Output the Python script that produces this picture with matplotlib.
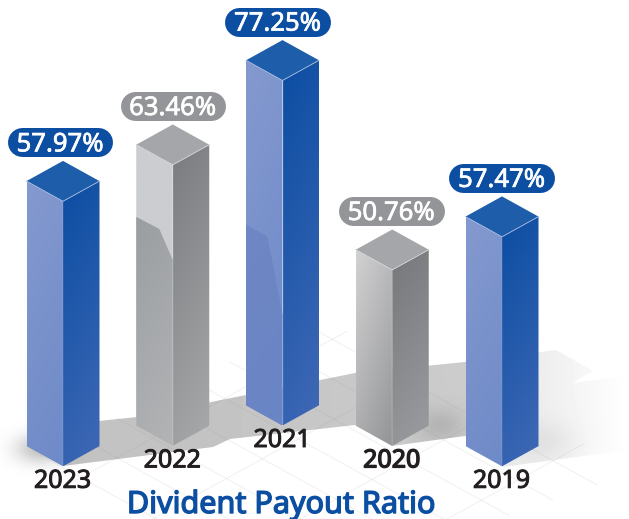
import numpy as np
import matplotlib
matplotlib.use("Agg")
import matplotlib.pyplot as plt
import matplotlib.patheffects as pe
from matplotlib.colors import to_rgb
from matplotlib.patches import Polygon

#DATA (printed labels, columns in the picture are not drawn to scale)
years = ["2023", "2022", "2021", "2020", "2019"]
payout = [57.97, 63.46, 77.25, 50.76, 57.47]
drawn_height = [265, 281, 345, 176, 229.5]
floor_row = [0, 1, 2, 1, 0]
is_blue = [True, False, True, False, True]
year_stroke = [0.7, 0.7, 0.7, 1.0, 0.7]
title = "Divident Payout Ratio"

W, H = 629, 519
plt.rcParams["font.family"] = ["Noto Sans", "DejaVu Sans"]

fig = plt.figure(figsize=(W / 100, H / 100), dpi=100)
ax = fig.add_axes([0, 0, 1, 1])


def gradient(pts, c1, c2, tilt=0.25, zorder=3):
    #fill polygon with a slightly diagonal gradient from c1 to c2
    pts = np.array(pts, dtype=float)
    x0, y0 = pts.min(axis=0)
    x1, y1 = pts.max(axis=0)
    xx, yy = np.meshgrid(np.linspace(0, 1, 40), np.linspace(0, 1, 300))
    t = np.clip((yy + tilt * xx) / (1 + tilt), 0, 1)[..., None]
    img = np.array(to_rgb(c1)) * (1 - t) + np.array(to_rgb(c2)) * t
    im = ax.imshow(img, extent=(x0, x1, y1, y0), aspect="auto", zorder=zorder, interpolation="bilinear")
    im.set_clip_path(Polygon(pts, closed=True, transform=ax.transData))


#FLOOR SHADOW
band = [(63, 466), (213, 447), (230, 439), (355, 425), (392, 446), (465, 436), (502, 467), (629, 450),
        (629, 376), (572, 383), (593, 371), (556, 350), (465, 362), (355, 373), (246, 395), (137, 417), (99, 421)]
gx, gy = np.meshgrid(np.arange(W), np.arange(H))
tone = np.interp(gx, [60, 250, 465, 480, 540, 590, 629], [0.76, 0.77, 0.80, 0.91, 0.93, 0.97, 1.0])
tone = tone - 0.09 * np.exp(-(((gx - 440) / 25.0) ** 2 + ((gy - 425) / 18.0) ** 2))
tone = tone - 0.05 * np.exp(-(((gx - 545) / 30.0) ** 2 + ((gy - 440) / 20.0) ** 2))
shade = ax.imshow(tone, cmap="gray", vmin=0, vmax=1, extent=(0, W, H, 0), aspect="auto", zorder=1)
shade.set_clip_path(Polygon(band, closed=True, transform=ax.transData))

#soft shadow left of first column
blob = np.zeros((H, W, 4))
blob[..., 3] = 0.24 * np.exp(-(((gx - 40) / 24.0) ** 2 + ((gy - 448) / 15.0) ** 2))
ax.imshow(blob, extent=(0, W, H, 0), aspect="auto", zorder=1)

#FLOOR GRID
floor = Polygon([(320, 318), (640, 470), (500, 519), (140, 519), (10, 470)], closed=True, transform=ax.transData)
line_x = np.array([0, W])
for c in np.arange(-120, 520, 39.5):
    ln, = ax.plot(line_x, 0.55 * line_x + c, color="#8a8a8a", lw=0.6, alpha=0.14, zorder=2)
    ln.set_clip_path(floor)
for c in np.arange(360, 1000, 81):
    ln, = ax.plot(line_x, -0.55 * line_x + c, color="#8a8a8a", lw=0.6, alpha=0.14, zorder=2)
    ln.set_clip_path(floor)

#COLUMNS
half_w = 36.5
half_d = 20.2
for i, year in enumerate(years):
    cx = 63 + 109.75 * i
    base = 466.3 - 20.4 * floor_row[i]
    top = base - drawn_height[i]
    left = [(cx - half_w, top - half_d), (cx, top), (cx, base), (cx - half_w, base - half_d)]
    right = [(cx, top), (cx + half_w, top - half_d), (cx + half_w, base - half_d), (cx, base)]
    roof = [(cx - half_w, top - half_d), (cx, top - 2 * half_d), (cx + half_w, top - half_d), (cx, top)]

    if is_blue[i]:
        gradient(left, "#8499CF", "#6E8AC8")
        gradient(right, "#0A4DA2", "#4169B6")
        roof_c, edge_c, pill_c = "#1E5DA9", "#A9BCE2", "#0B4EA2"
    elif year == "2022":
        gradient(left, "#CBCED1", "#CBCDD0")
        gradient(right, "#7A7B7E", "#A8AAAC")
        roof_c, edge_c, pill_c = "#A5A6A9", "#D4D5D7", "#939598"
    else:
        gradient(left, "#D2D2D3", "#939496", tilt=0.6)
        gradient(right, "#76777A", "#9C9DA0")
        roof_c, edge_c, pill_c = "#A5A6A9", "#D4D5D7", "#939598"

    #reflection on the front left face
    if year == "2022":
        gradient([(cx - half_w, top + 52), (cx - 13.5, top + 64), (cx, top + 95), left[2], left[3]],
                 "#9B9EA1", "#B2B4B6", zorder=3.1)
    if year == "2021":
        gradient([(cx - half_w, top + 144), (cx - 15, top + 156), (cx, top + 234), left[2], left[3]],
                 "#6F87C3", "#6A85C5", zorder=3.1)

    ax.add_patch(Polygon(roof, closed=True, facecolor=roof_c, edgecolor="none", zorder=3.2))
    ax.plot([left[0][0], cx, right[1][0]], [left[0][1], top, right[1][1]], color=edge_c, lw=0.6, zorder=3.3)
    ax.plot([cx, cx], [top, base], color=edge_c, lw=0.3, alpha=0.6, zorder=3.3)

    #value pill, a thick line with round caps
    shift = [-3, 0, -5, -1, -0.5][i]
    pill_h = 29
    pill_w = 105.5
    pill_y = top - 2 * half_d - 4 - pill_h / 2
    pill_cx = cx + shift
    ax.plot([pill_cx - pill_w / 2 + pill_h / 2, pill_cx + pill_w / 2 - pill_h / 2], [pill_y, pill_y],
            color=pill_c, lw=pill_h * 0.72, solid_capstyle="round", zorder=4)
    ax.text(pill_cx, pill_y - 0.5, f"{payout[i]:.2f}%", color="white", fontsize=18.5,
            ha="center", va="center_baseline", zorder=5,
            path_effects=[pe.withStroke(linewidth=0.5, foreground="white")])

    #year label, stroke thickens the regular weight
    ax.text(cx - 0.5, base + 12, year, color="#231F20", fontsize=18,
            ha="center", va="center_baseline", zorder=5,
            path_effects=[pe.withStroke(linewidth=year_stroke[i], foreground="#231F20")])

ax.text(281, 501.5, title, color="#0B4EA2", fontsize=22,
        ha="center", va="center_baseline", zorder=5,
        path_effects=[pe.withStroke(linewidth=1.0, foreground="#0B4EA2")])

ax.set_xlim(0, W)
ax.set_ylim(H, 0)
ax.axis("off")

fig.savefig("out.png", dpi=100, facecolor="white")
